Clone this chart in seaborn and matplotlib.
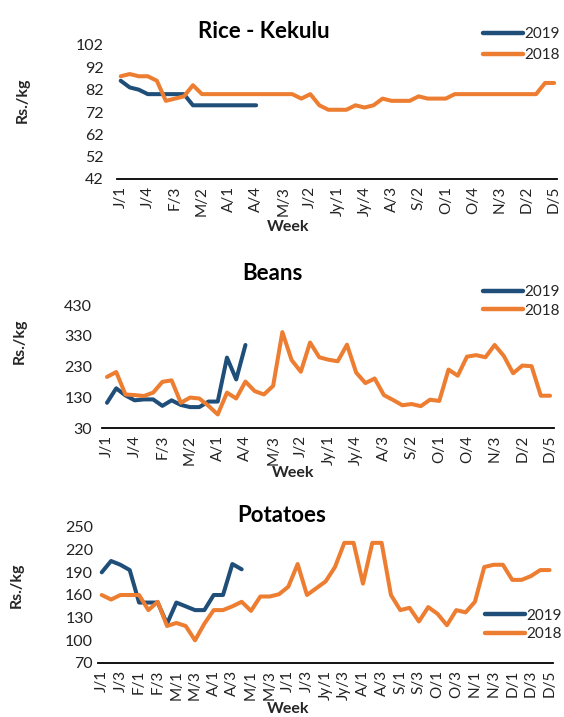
import numpy as np
import pandas as pd
import matplotlib
matplotlib.use('Agg')
import matplotlib.pyplot as plt
import seaborn as sns

# weekly retail prices, Rs./kg (week index 0 = J/1 ... 48 = D/5)
rice_2019 = [86, 83, 82, 80, 80, 80, 80, 80, 75, 75, 75, 75, 75, 75, 75, 75]
rice_2018 = [88, 89, 88, 88, 86, 77, 78, 79, 84, 80,
             80, 80, 80, 80, 80, 80, 80, 80, 80, 80,
             78, 80, 75, 73, 73, 73, 75, 74, 75, 78,
             77, 77, 77, 79, 78, 78, 78, 80, 80, 80,
             80, 80, 80, 80, 80, 80, 80, 85, 85]

beans_2019 = [112, 159, 136, 120, 123, 123, 102, 120, 105, 98, 98, 116, 116, 259, 188, 300]
beans_2018 = [196, 212, 139, 137, 134, 145, 180, 185, 112, 129,
              126, 102, 74, 145, 126, 181, 150, 139, 167, 342,
              251, 213, 308, 260, 252, 247, 301, 210, 176, 191,
              137, 121, 104, 108, 101, 122, 118, 220, 200, 262,
              267, 260, 300, 264, 208, 233, 231, 135, 135]

potato_2019 = [190, 205, 200, 193, 150, 150, 150, 122, 150, 145, 140, 140, 160, 160, 201, 194]
potato_2018 = [160, 154, 160, 160, 160, 140, 151, 119, 123, 119,
               100, 122, 140, 140, 145, 151, 139, 158, 158, 161,
               171, 201, 160, 169, 178, 197, 229, 229, 175, 229,
               229, 160, 140, 143, 125, 144, 135, 120, 140, 137,
               151, 197, 200, 200, 180, 180, 185, 193, 193]

ticks_every3 = ['J/1', 'J/4', 'F/3', 'M/2', 'A/1', 'A/4', 'M/3', 'J/2', 'Jy/1', 'Jy/4',
                'A/3', 'S/2', 'O/1', 'O/4', 'N/3', 'D/2', 'D/5']
ticks_every2 = ['J/1', 'J/3', 'F/1', 'F/3', 'M/1', 'M/3', 'A/1', 'A/3', 'M/1', 'M/3',
                'J/1', 'J/3', 'Jy/1', 'Jy/3', 'A/1', 'A/3', 'S/1', 'S/3', 'O/1', 'O/3',
                'N/1', 'N/3', 'D/1', 'D/3', 'D/5']

years = ['2019', '2018']
colors = ['#1F4E79', '#ED7D31']

sns.set_style('white')
plt.rcParams['font.family'] = ['Lato', 'DejaVu Sans']

W, H = 564, 717
fig = plt.figure(figsize=(W / 100, H / 100), dpi=100)


def px_axes(left, top, right, bottom):
    return fig.add_axes([left / W, 1 - bottom / H, (right - left) / W, (bottom - top) / H])


def long_df(s19, s18):
    return pd.DataFrame({
        'week': list(range(len(s19))) + list(range(len(s18))),
        'price': s19 + s18,
        'year': ['2019'] * len(s19) + ['2018'] * len(s18),
    })


panels = [
    dict(title='Rice - Kekulu', s19=rice_2019, s18=rice_2018,
         box=(117, 45, 557, 179), xlim=(-0.41, 48.32), ylim=(42, 102),
         yticks=np.arange(42, 103, 10), labels=ticks_every3, step=3,
         tpos=(264, 38), leg=(483, 44.5), lsp=0.45, ylab=(23, 100), week=(288, 227), ypad=9.5),
    dict(title='Beans', s19=beans_2019, s18=beans_2018,
         box=(102, 305, 554, 428), xlim=(-0.54, 48.43), ylim=(30, 430),
         yticks=np.arange(30, 431, 100), labels=ticks_every3, step=3,
         tpos=(272, 280), leg=(483, 301.5), lsp=0.3, ylab=(20, 341), week=(293, 473), ypad=7),
    dict(title='Potatoes', s19=potato_2019, s18=potato_2018,
         box=(98, 527, 553, 663), xlim=(-0.40, 48.37), ylim=(70, 250),
         yticks=np.arange(70, 251, 30), labels=ticks_every2, step=2,
         tpos=(282, 522), leg=(485, 625), lsp=0.3, ylab=(17, 585), week=(288, 709), ypad=3.5),
]

for p in panels:
    ax = px_axes(*p['box'])
    df = long_df(p['s19'], p['s18'])
    sns.lineplot(data=df, x='week', y='price', hue='year', hue_order=years,
                 palette=colors, linewidth=2.9, legend=False, ax=ax)
    ax.set_xlim(*p['xlim'])
    ax.set_ylim(*p['ylim'])
    ax.set_yticks(p['yticks'])
    ax.set_xticks(range(0, 49, p['step']))
    ax.set_xticklabels(p['labels'], rotation=90)
    ax.tick_params(axis='x', length=0, pad=5, labelsize=11, colors='#222222')
    ax.tick_params(axis='y', length=0, pad=p['ypad'], labelsize=11.5, colors='#222222')
    ax.set_xlabel('')
    ax.set_ylabel('')
    for side in ['top', 'right', 'left']:
        ax.spines[side].set_visible(False)
    ax.spines['bottom'].set_color('black')
    ax.spines['bottom'].set_linewidth(1.3)
    ax.patch.set_alpha(0)

    leg = ax.legend(ax.lines[:2], years, loc='center left',
                    bbox_to_anchor=(p['leg'][0] / W, 1 - p['leg'][1] / H),
                    bbox_transform=fig.transFigure, frameon=False,
                    fontsize=11, handlelength=2.6, handletextpad=0.1,
                    labelspacing=p['lsp'], borderpad=0, borderaxespad=0)
    for ln in leg.get_lines():
        ln.set_linewidth(3.2)

    fig.text(p['tpos'][0] / W, 1 - p['tpos'][1] / H, p['title'], ha='center',
             va='baseline', fontsize=16, fontweight='bold', color='black')
    fig.text(p['ylab'][0] / W, 1 - p['ylab'][1] / H, 'Rs./kg', rotation=90,
             ha='center', va='center', fontsize=11.5, fontweight='bold')
    fig.text(p['week'][0] / W, 1 - p['week'][1] / H, 'Week', ha='center',
             va='center', fontsize=11.5, fontweight='bold')

fig.savefig('out.png', dpi=100)
